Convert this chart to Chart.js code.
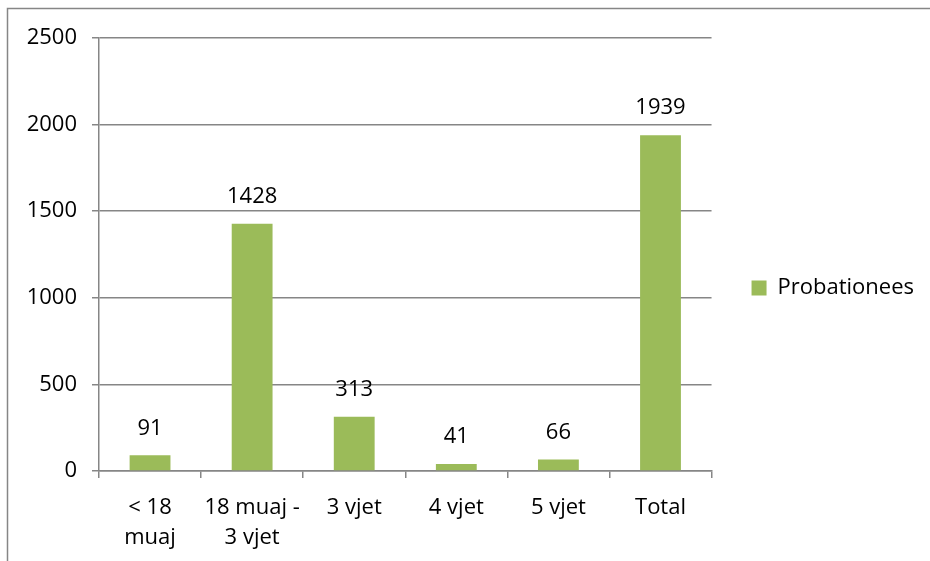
<!DOCTYPE html>
<html>
<head>
<meta charset="utf-8">
<script src="https://cdn.jsdelivr.net/npm/chart.js@4/dist/chart.umd.min.js"></script>
<style>
  html, body { margin: 0; padding: 0; background: #fff; }
  #wrap { width: 930px; height: 561px; position: relative; }
</style>
</head>
<body>
<div id="wrap"><canvas id="c" width="930" height="561"></canvas></div>
<script>
const categories = [["< 18", "muaj"], ["18 muaj -", "3 vjet"], "3 vjet", "4 vjet", "5 vjet", "Total"];
const probationees = [91, 1428, 313, 41, 66, 1939];
const yTicks = [0, 500, 1000, 1500, 2000, 2500];
const seriesName = "Probationees";

const FONT = "'Open Sans', 'Noto Sans', sans-serif";
const GRAY = '#868686';
const GREEN = '#9BBB59';

const frame = {
  id: 'frame',
  beforeDraw(chart) {
    const ctx = chart.ctx;
    ctx.save();
    ctx.strokeStyle = GRAY;
    ctx.lineWidth = 1.5;
    ctx.strokeRect(7.5, 8.5, 1200, 1200);
    ctx.restore();
  }
};

const legendPlace = {
  id: 'legendPlace',
  afterLayout(chart) {
    const lg = chart.legend;
    if (lg) {
      lg.top = 38;
      lg.bottom = 538;
      lg.height = lg.bottom - lg.top;
    }
  }
};

const valueLabels = {
  id: 'valueLabels',
  afterDatasetsDraw(chart) {
    const ctx = chart.ctx;
    const meta = chart.getDatasetMeta(0);
    ctx.save();
    ctx.font = '22px ' + FONT;
    ctx.fillStyle = '#000';
    ctx.textAlign = 'center';
    ctx.textBaseline = 'middle';
    meta.data.forEach((bar, i) => {
      ctx.fillText(String(chart.data.datasets[0].data[i]), bar.x, bar.y - 27);
    });
    ctx.restore();
  }
};

new Chart(document.getElementById('c'), {
  type: 'bar',
  data: {
    labels: categories,
    datasets: [{
      label: seriesName,
      data: probationees,
      backgroundColor: GREEN,
      borderWidth: 0,
      barPercentage: 0.4,
      categoryPercentage: 1.0
    }]
  },
  options: {
    responsive: false,
    animation: false,
    devicePixelRatio: 1,
    layout: { padding: { top: 38, bottom: 0, left: 0, right: 6 } },
    plugins: {
      tooltip: { enabled: false },
      legend: {
        position: 'right',
        labels: {
          boxWidth: 15,
          boxHeight: 15,
          padding: 40,
          color: '#000',
          font: { family: FONT, size: 22 }
        }
      }
    },
    scales: {
      x: {
        offset: true,
        afterFit(scale) { scale.height = 90; },
        grid: {
          offset: true,
          drawOnChartArea: false,
          drawTicks: true,
          tickLength: 7,
          color: GRAY,
          lineWidth: 1.5
        },
        border: { display: true, color: GRAY, width: 1.5 },
        ticks: {
          color: '#000',
          padding: 14,
          maxRotation: 0,
          autoSkip: false,
          font: { family: FONT, size: 22, lineHeight: 1.4 }
        }
      },
      y: {
        min: 0,
        max: 2500,
        afterFit(scale) { scale.width = 99; },
        afterBuildTicks(scale) { scale.ticks = yTicks.map(v => ({ value: v })); },
        grid: {
          color: GRAY,
          lineWidth: 1.5,
          tickLength: 7,
          drawTicks: true
        },
        border: { display: true, color: GRAY, width: 1.5 },
        ticks: {
          color: '#000',
          padding: 15,
          font: { family: FONT, size: 22 },
          callback: (v) => String(v)
        }
      }
    }
  },
  plugins: [frame, legendPlace, valueLabels]
});
</script>
</body>
</html>
